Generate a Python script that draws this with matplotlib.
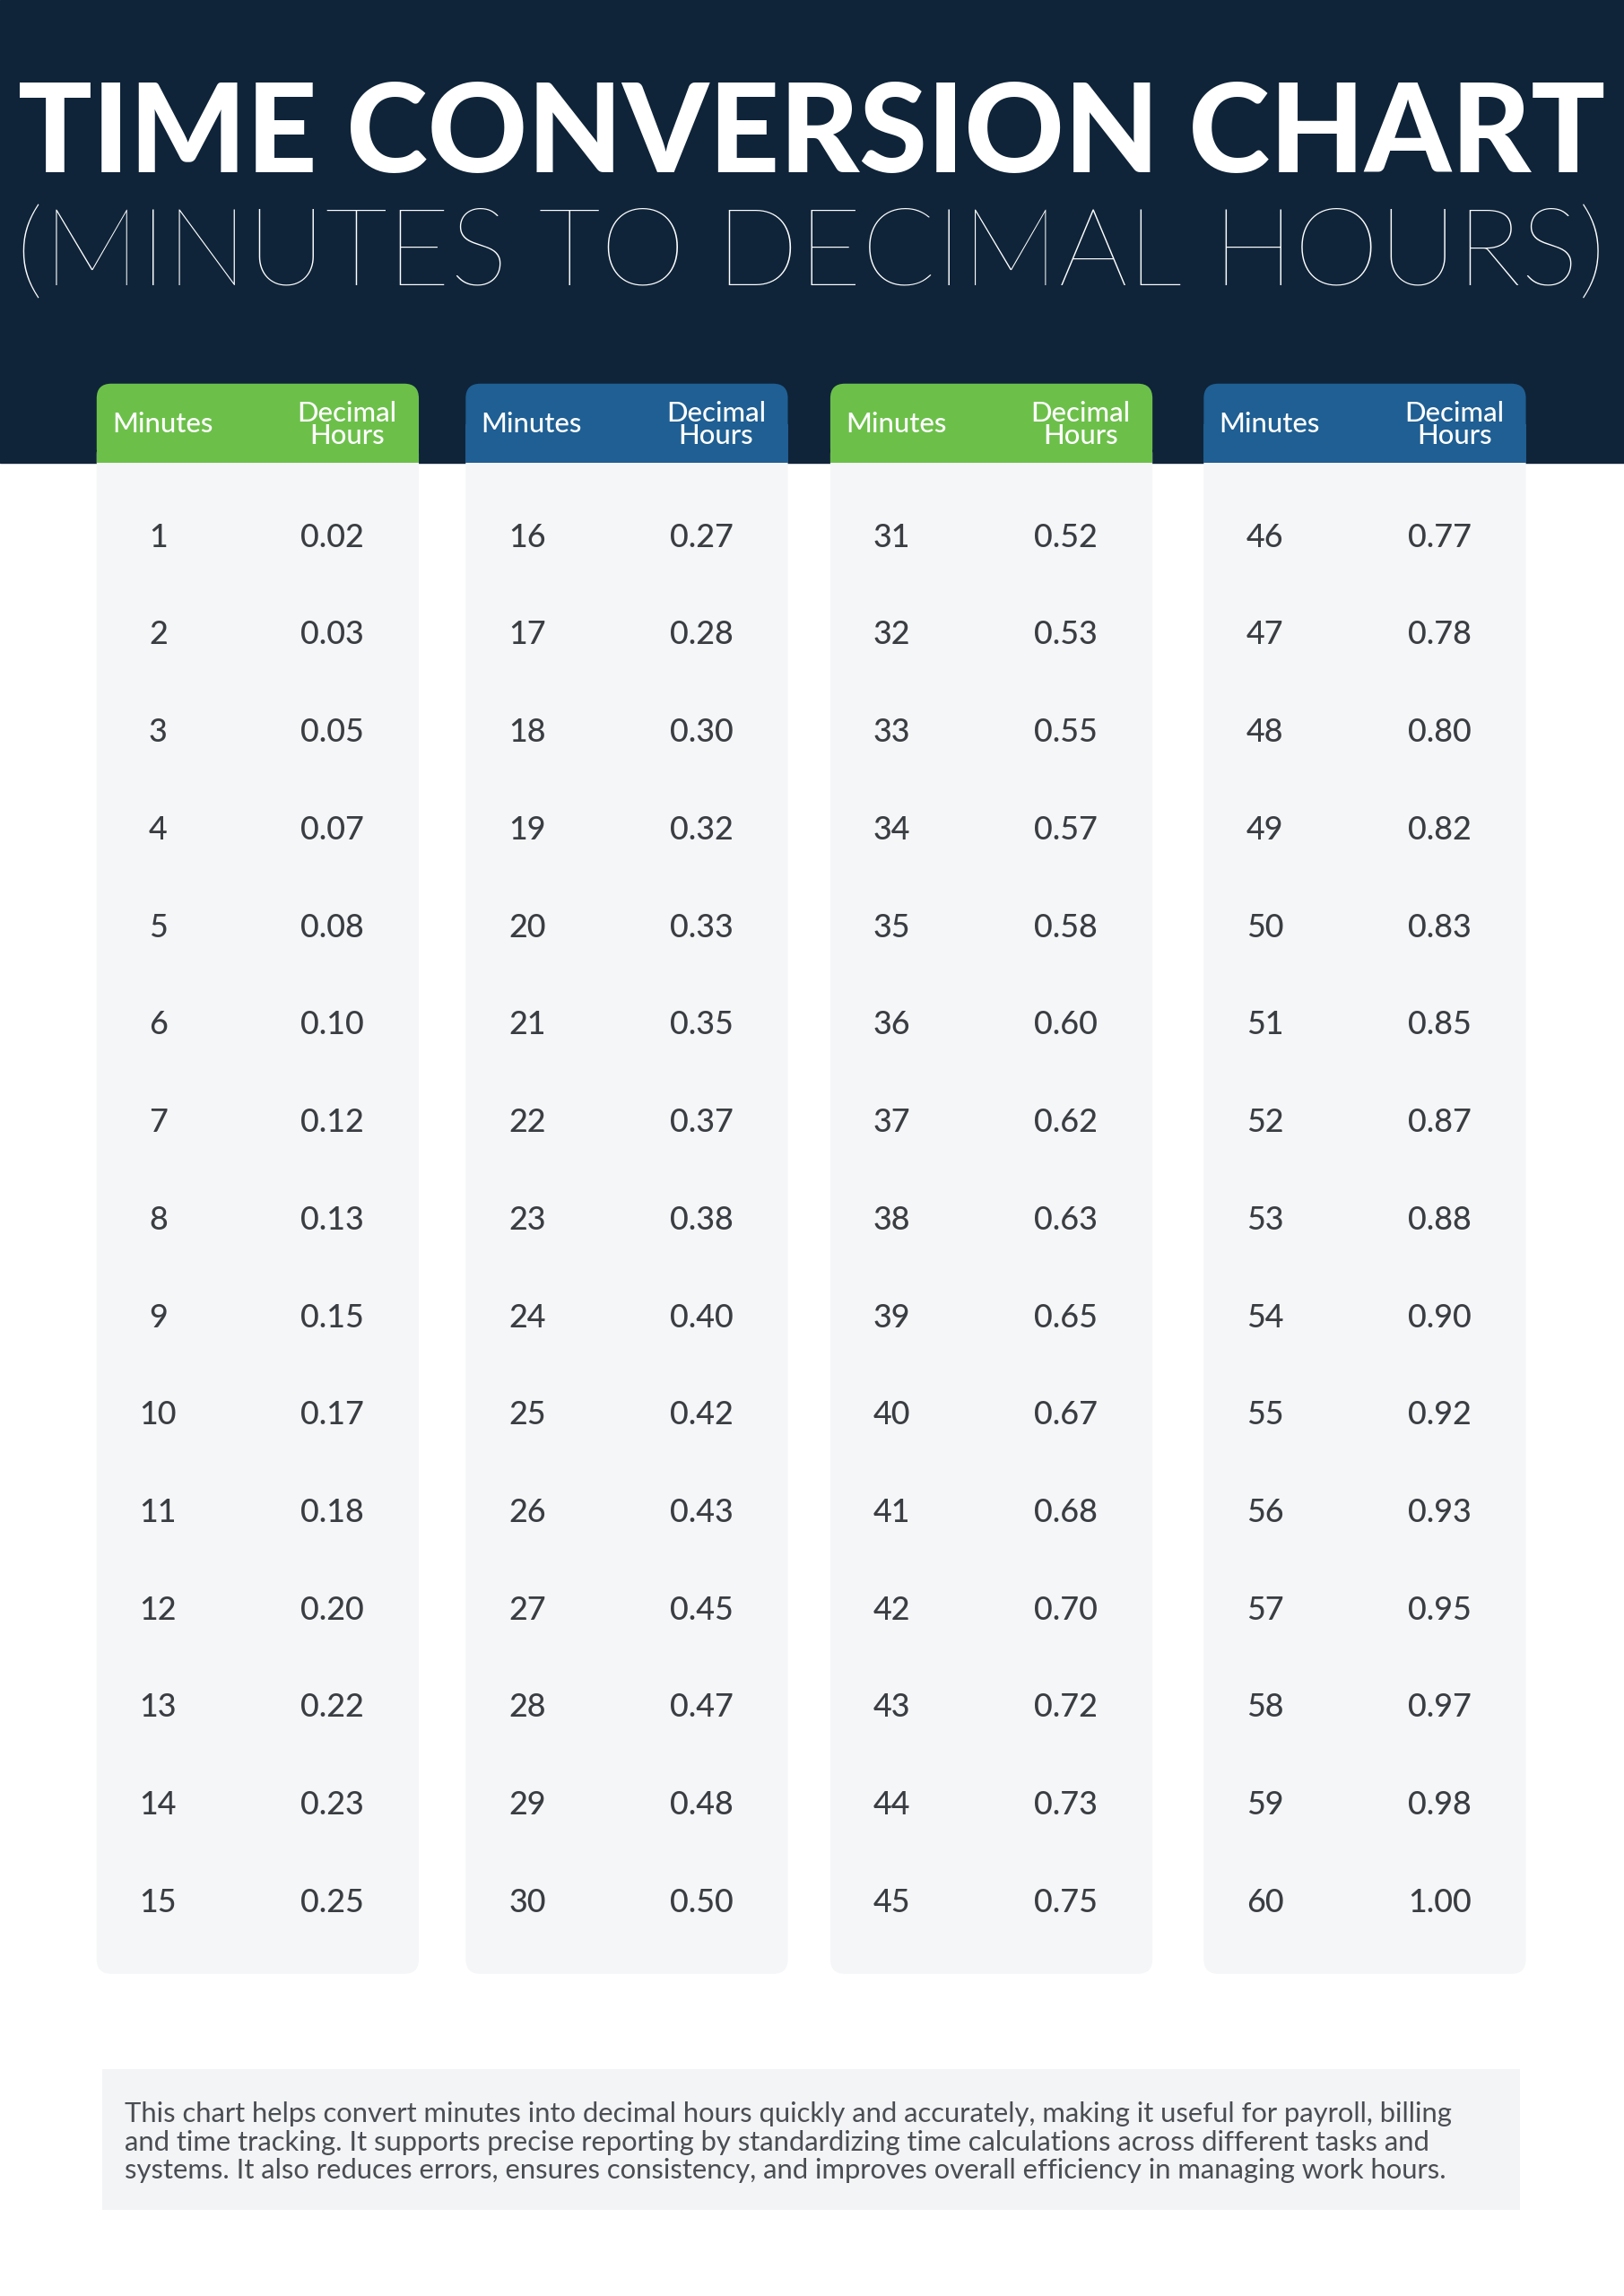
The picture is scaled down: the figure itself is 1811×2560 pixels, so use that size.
import matplotlib.pyplot as plt
from matplotlib.patches import FancyBboxPatch, Rectangle

# data
minutes = list(range(1, 61))
decimal_hours = [
    "0.02", "0.03", "0.05", "0.07", "0.08", "0.10", "0.12", "0.13", "0.15", "0.17",
    "0.18", "0.20", "0.22", "0.23", "0.25", "0.27", "0.28", "0.30", "0.32", "0.33",
    "0.35", "0.37", "0.38", "0.40", "0.42", "0.43", "0.45", "0.47", "0.48", "0.50",
    "0.52", "0.53", "0.55", "0.57", "0.58", "0.60", "0.62", "0.63", "0.65", "0.67",
    "0.68", "0.70", "0.72", "0.73", "0.75", "0.77", "0.78", "0.80", "0.82", "0.83",
    "0.85", "0.87", "0.88", "0.90", "0.92", "0.93", "0.95", "0.97", "0.98", "1.00",
]
title = "TIME CONVERSION CHART"
subtitle = "(MINUTES TO DECIMAL HOURS)"
col_header = ["Minutes", "Decimal\nHours"]
footer = ("This chart helps convert minutes into decimal hours quickly and accurately, making it useful for payroll, billing\n"
          "and time tracking. It supports precise reporting by standardizing time calculations across different tasks and\n"
          "systems. It also reduces errors, ensures consistency, and improves overall efficiency in managing work hours.")

navy = "#0f2439"
green = "#6cc04a"
blue = "#1f5f93"
panel = "#f5f6f8"
txt = "#3a3d42"
header_colors = [green, blue, green, blue]

plt.rcParams["font.family"] = ["Lato", "DejaVu Sans"]

fig = plt.figure(figsize=(18.11, 25.6), dpi=100)
ax = fig.add_axes([0, 0, 1, 1])
ax.set_xlim(0, 1109)
ax.set_ylim(1568, 0)
ax.axis("off")

S = 1.176  # ref px -> pt

ax.add_patch(Rectangle((0, 0), 1109, 316, color=navy, zorder=0))
ax.text(554, 93, title, ha="center", va="center", color="white",
        fontsize=84 * S, fontweight="black")
ax.text(554, 175, subtitle, ha="center", va="center", color="white",
        fontsize=74 * S, fontweight="light")

lefts = [66, 318, 567, 822]
width = 220
for c, x0 in enumerate(lefts):
    ax.add_patch(FancyBboxPatch((x0, 300), width, 1048, boxstyle="round,pad=0,rounding_size=10",
                                fc=panel, ec="none", zorder=1))
    ax.add_patch(FancyBboxPatch((x0, 262), width, 54, boxstyle="round,pad=0,rounding_size=10",
                                fc=header_colors[c], ec="none", zorder=2))
    ax.add_patch(Rectangle((x0, 290), width, 26, fc=header_colors[c], ec="none", zorder=2))
    ax.text(x0 + 45, 290, col_header[0], ha="center", va="center", color="white",
            fontsize=19 * S, fontweight="medium", zorder=3)
    ax.text(x0 + 171, 290, col_header[1], ha="center", va="center", color="white",
            fontsize=19 * S, fontweight="medium", linespacing=0.85, zorder=3)
    for r in range(15):
        i = c * 15 + r
        y = 367 + r * 66.6
        ax.text(x0 + 42, y, str(minutes[i]), ha="center", va="center", color=txt,
                fontsize=22 * S, fontweight="medium", zorder=3)
        ax.text(x0 + 161, y, decimal_hours[i], ha="center", va="center", color=txt,
                fontsize=22 * S, fontweight="medium", zorder=3)

ax.add_patch(Rectangle((70, 1413), 968, 96, fc="#f3f4f6", ec="none", zorder=1))
ax.text(85, 1463, footer, ha="left", va="center", color="#4a4d52",
        fontsize=19 * S, linespacing=1.15, zorder=3)

fig.savefig("out.png", dpi=100)
